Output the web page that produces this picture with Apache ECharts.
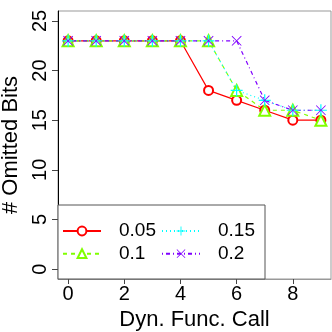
<!DOCTYPE html>
<html>
<head>
<meta charset="utf-8">
<script src="https://cdn.jsdelivr.net/npm/echarts@6/dist/echarts.min.js"></script>
<style>
  html, body { margin: 0; padding: 0; background: #fff; }
  #chart { width: 332px; height: 332px; }
</style>
</head>
<body>
<div id="chart"></div>
<script>
// dynamic function calls on x
var calls = [0, 1, 2, 3, 4, 5, 6, 7, 8, 9]
// omitted bits per threshold
var bits005 = [23, 23, 23, 23, 23, 18, 17, 16, 15, 15]
var bits01 = [23, 23, 23, 23, 23, 23, 18, 16, 16, 15]
var bits015 = [23, 23, 23, 23, 23, 23, 18, 17, 16, 16]
var bits02 = [23, 23, 23, 23, 23, 23, 23, 17, 16, 16]
var xTicks = [0, 2, 4, 6, 8]
var yTicks = [0, 5, 10, 15, 20, 25]

var plusPath = 'path://M-0.6,-6H0.6V-0.6H6V0.6H0.6V6H-0.6V0.6H-6V-0.6H-0.6Z'
var crossPath = 'path://M-5,-4.4L-4.4,-5L0,-0.6L4.4,-5L5,-4.4L0.6,0L5,4.4L4.4,5L0,0.6L-4.4,5L-5,4.4L-0.6,0Z'

function pairs(ys) {
  return calls.map(function(x, i) { return [x, ys[i]] })
}

function mkSeries(name, ys, color, dash, symbol, size, bw) {
  return {
    name: name,
    type: 'line',
    data: pairs(ys),
    symbol: symbol,
    symbolSize: size,
    showAllSymbol: true,
    lineStyle: { color: color, width: 1.2, type: dash },
    itemStyle: { color: color, borderColor: color, borderWidth: bw },
    emphasis: { disabled: true }
  }
}

var font = 'Liberation Sans, Arial, sans-serif'
var chart = echarts.init(document.getElementById('chart'))
var legendText = { fontFamily: font, fontSize: 19, color: '#000', lineHeight: 19, padding: [0, 0, 0, 13] }

chart.setOption({
  animation: false,
  grid: {
    left: 58, top: 11, right: 1, bottom: 53,
    outerBoundsMode: 'none', containLabel: false,
    show: true, borderColor: '#999', borderWidth: 1
  },
  graphic: [{
    type: 'rect',
    z: 1,
    shape: { x: 58, y: 205, width: 207, height: 74 },
    style: { fill: '#fff', stroke: '#555', lineWidth: 1 }
  }],
  legend: [
    {
      orient: 'vertical', left: 62, top: 221.5, padding: 0,
      itemWidth: 38, itemHeight: 11, itemGap: 3.7,
      data: ['0.05', '0.1'], textStyle: legendText
    },
    {
      orient: 'vertical', left: 161, top: 221.5, padding: 0,
      itemWidth: 38, itemHeight: 11, itemGap: 3.7,
      data: ['0.15', '0.2'], textStyle: legendText
    }
  ],
  xAxis: {
    type: 'value',
    min: -0.36,
    max: 9.36,
    name: 'Dyn. Func. Call',
    nameLocation: 'middle',
    nameGap: 26,
    nameTextStyle: { fontFamily: font, fontSize: 22, color: '#000' },
    axisLine: { show: true, onZero: false, lineStyle: { color: '#999' } },
    axisTick: { show: true, length: 5, customValues: xTicks, lineStyle: { color: '#444' } },
    axisLabel: { customValues: xTicks, margin: 5, fontFamily: font, fontSize: 20, color: '#000' },
    splitLine: { show: false }
  },
  yAxis: {
    type: 'value',
    min: -1,
    max: 26,
    name: '# Omitted Bits',
    nameLocation: 'middle',
    nameGap: 36,
    nameTextStyle: { fontFamily: font, fontSize: 22, color: '#000' },
    axisLine: { show: true, onZero: false, lineStyle: { color: '#000' } },
    axisTick: { show: true, length: 6, customValues: yTicks, lineStyle: { color: '#444' } },
    axisLabel: { customValues: yTicks, rotate: 90, margin: 8, fontFamily: font, fontSize: 20, color: '#000' },
    splitLine: { show: false }
  },
  series: [
    mkSeries('0.05', bits005, '#FF0000', 'solid', 'emptyCircle', 9, 1.2),
    mkSeries('0.1', bits01, '#80FF00', [4, 4], 'emptyTriangle', 11, 1.2),
    mkSeries('0.15', bits015, '#00FFFF', [1, 3], plusPath, 12, 0),
    mkSeries('0.2', bits02, '#8000FF', [1, 3, 4, 3], crossPath, 10, 0)
  ]
})
</script>
</body>
</html>
